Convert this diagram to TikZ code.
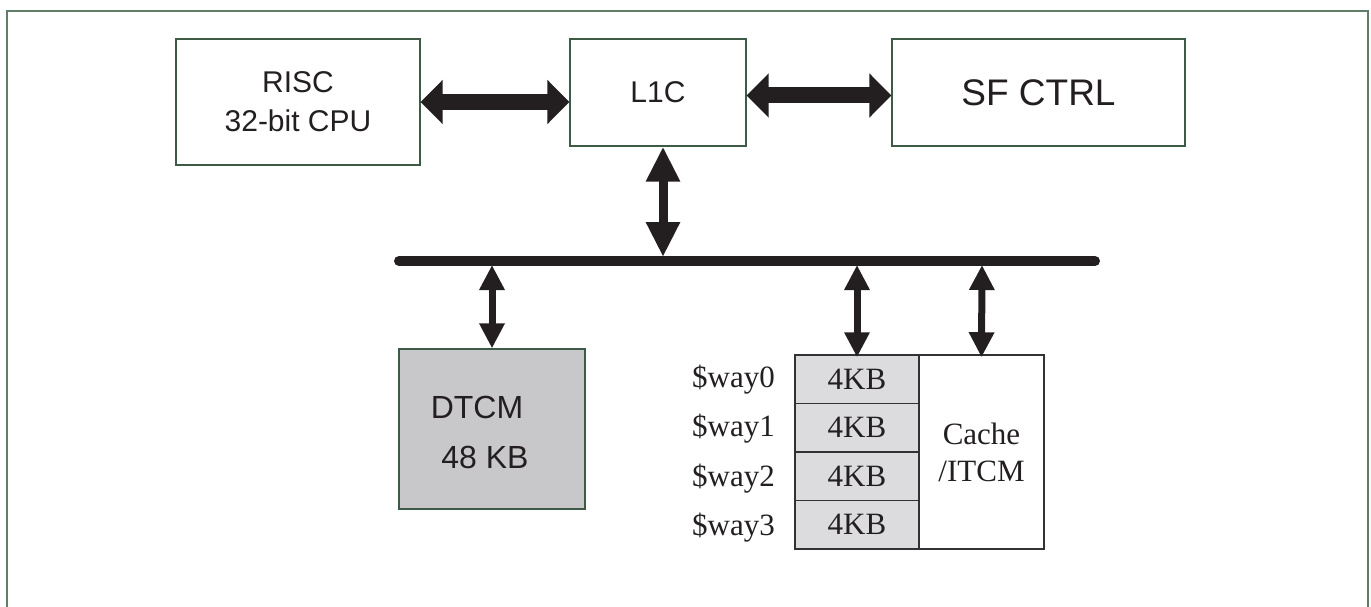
\documentclass[tikz,border=0pt]{standalone}
\usepackage{fontspec}
\setmainfont{Liberation Serif}
\newfontfamily\arialf{Liberation Sans}
\usetikzlibrary{arrows.meta}
\definecolor{framec}{RGB}{95,125,105}
\definecolor{boxc}{RGB}{60,90,70}
\definecolor{arrowc}{RGB}{35,31,32}
\definecolor{dtcmfill}{RGB}{200,200,202}
\definecolor{wayfill}{RGB}{220,220,222}
\definecolor{wayline}{RGB}{50,50,52}
\tikzset{
  blockbox/.style={draw=boxc, line width=1.3pt, fill=white, inner sep=0pt, align=center, font=\arialf\fontsize{30}{39}\selectfont, text=arrowc},
  waybox/.style={draw=wayline, line width=1.5pt, fill=wayfill, inner sep=0pt, minimum width=124pt, minimum height=48.5pt, font=\fontsize{31}{37}\selectfont, text=arrowc},
  waylabel/.style={anchor=east, inner sep=0pt, font=\fontsize{31}{37}\selectfont, text=arrowc},
  biglink/.style={draw=arrowc, line width=16pt, {Triangle[width=43pt,length=22pt]}-{Triangle[width=43pt,length=22pt]}},
  midlink/.style={draw=arrowc, line width=9pt, {Triangle[width=32pt,length=35pt]}-{Triangle[width=32pt,length=35pt]}},
  smalllink/.style={draw=arrowc, line width=7pt, {Triangle[width=24pt,length=25pt]}-{Triangle[width=24pt,length=25pt]}},
  busline/.style={draw=arrowc, line width=10pt, line cap=round},
}
\begin{document}
\begin{tikzpicture}[x=1pt,y=-1pt]
\useasboundingbox (0,0) rectangle (1371,607);
% outer frame (open at bottom)
\draw[framec, line width=2pt] (6.5,608) -- (6.5,11) -- (1368,11) -- (1368,608);

% top blocks
\node[blockbox, minimum width=244pt, minimum height=126pt] (risc) at (298,102) {RISC\\32-bit CPU};
\node[blockbox, minimum width=176pt, minimum height=107pt] (l1c) at (658,92.5) {L1C};
\node[blockbox, minimum width=293pt, minimum height=107pt, font=\arialf\fontsize{37}{44}\selectfont] (sf) at (1038.5,92.5) {SF CTRL};

% bus
\coordinate (busL) at (399,261);
\coordinate (busR) at (1095,261);

% DTCM
\node[draw=boxc, line width=1.3pt, fill=dtcmfill, minimum width=186pt, minimum height=160pt, inner sep=0pt] (dtcm) at (492,429) {};
\node[font=\arialf\fontsize{32}{38}\selectfont, text=arrowc, inner sep=0pt] (dtcmA) at (477,407) {DTCM};
\node[font=\arialf\fontsize{32}{38}\selectfont, text=arrowc, inner sep=0pt] (dtcmB) at (485,457) {48 KB};

% cache ways
\node[waybox] (w0) at (857,379.25) {4KB};
\node[waybox] (w1) at (857,427.75) {4KB};
\node[waybox] (w2) at (857,476.25) {4KB};
\node[waybox] (w3) at (857,524.75) {4KB};
\node[draw=wayline, line width=1.5pt, fill=white, minimum width=125pt, minimum height=194pt, inner sep=0pt, align=center, font=\fontsize{31}{37}\selectfont, text=arrowc] (cache) at (981.5,452) {Cache\\/ITCM};

\node[waylabel] (l0) at (775,380) {\$way0};
\node[waylabel] (l1) at (775,429) {\$way1};
\node[waylabel] (l2) at (775,479) {\$way2};
\node[waylabel] (l3) at (775,528) {\$way3};

% connector end points on the bus
\coordinate (bL1C) at (663,257);
\coordinate (bDT) at (492,265);
\coordinate (bW) at (857,265);
\coordinate (bC) at (982,265);

% connectors
\draw[biglink] (risc.east) -- (risc.east -| l1c.west);
\draw[biglink] ([yshift=-3pt]l1c.east) -- ([yshift=-3pt]l1c.east -| sf.west);
\draw[midlink] ([xshift=5pt]l1c.south) -- (bL1C);
\draw[smalllink] (bDT) -- (dtcm.north);
\draw[smalllink] (bW) -- ([yshift=-3pt]w0.north);
\draw[smalllink] (bC) -- ([yshift=-3pt]cache.north);

\draw[busline] (busL) -- (busR);
\end{tikzpicture}
\end{document}
